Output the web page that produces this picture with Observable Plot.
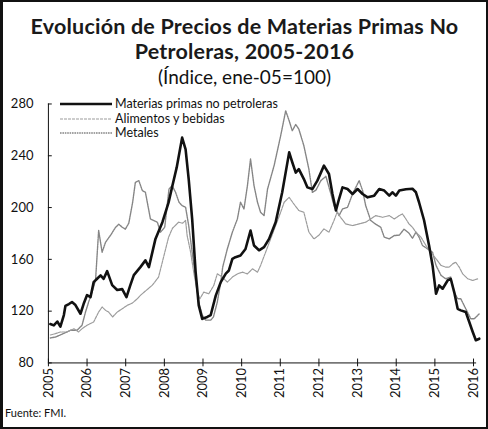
<!DOCTYPE html>
<html>
<head>
<meta charset="utf-8">
<script src="https://cdn.jsdelivr.net/npm/d3@7"></script>
<script src="https://cdn.jsdelivr.net/npm/@observablehq/plot@0.6"></script>
<style>
  html, body { margin: 0; padding: 0; background: #fff; }
  #frame { position: relative; width: 488px; height: 429px; box-sizing: border-box;
           border: 2px solid #111; border-left-width: 3px; overflow: hidden; font-family: Lato, "Open Sans", sans-serif; color: #111; }
  #title { position: absolute; left: 0; right: 0; top: 12px; text-align: center; font-size: 21.5px; font-weight: 700; line-height: 25px; letter-spacing: 0.2px; color: #1a1a1a; }
  #subtitle { position: absolute; left: 0; right: 0; top: 64px; text-align: center; font-size: 19px; font-weight: 400; line-height: 22px; }
  #chart { position: absolute; left: 0; top: 90px; }
  #caption { position: absolute; left: 2px; top: 404px; font-size: 11px; }
  #legend { position: absolute; left: 57px; top: 95px; font-size: 12.5px; line-height: 14.5px; }
  #legend div { display: flex; align-items: center; white-space: nowrap; }
  #legend svg { margin-right: 3px; }
</style>
</head>
<body>
<div id="frame">
  <div id="title">Evolución de Precios de Materias Primas No<br>Petroleras, 2005-2016</div>
  <div id="subtitle">(Índice, ene-05=100)</div>
  <div id="chart"></div>
  <div id="legend"></div>
  <div id="caption">Fuente: FMI.</div>
</div>
<script>
// Tick values
const yTicks = [80, 120, 160, 200, 240, 280];
const xTicks = [2005, 2006, 2007, 2008, 2009, 2010, 2011, 2012, 2013, 2014, 2015, 2016];

// Series names
const seriesNames = ["Materias primas no petroleras", "Alimentos y bebidas", "Metales"];

// Materias primas no petroleras: [year (fractional), index]
const materias = [
  [2005.05,110],[2005.14,109],[2005.23,112],[2005.31,108],[2005.40,117],[2005.44,124],[2005.53,125.5],[2005.61,127],
  [2005.70,124.7],[2005.83,118],[2005.91,125.5],[2006.00,132.4],[2006.09,130.9],[2006.17,142.4],[2006.26,145],
  [2006.35,147.6],[2006.43,145],[2006.52,150.9],[2006.65,140.1],[2006.78,136.3],[2006.91,137],[2007.02,130.9],
  [2007.12,140.1],[2007.21,147.8],[2007.38,154],[2007.51,159.2],[2007.60,154],[2007.77,175.8],[2007.95,188.7],
  [2008.11,204],[2008.21,217],[2008.32,231],[2008.46,254],[2008.55,245],[2008.63,222],[2008.72,191],[2008.81,150],
  [2008.89,124.5],[2008.98,114],[2009.11,115.5],[2009.20,117],[2009.33,132],[2009.46,142.4],[2009.59,149],
  [2009.67,151.4],[2009.76,160.4],[2009.84,161.7],[2009.97,163],[2010.10,168],[2010.23,182.3],[2010.32,170.7],
  [2010.45,167],[2010.58,169.4],[2010.71,175.8],[2010.88,188.7],[2011.05,211.8],[2011.23,242.6],[2011.31,235],
  [2011.40,227],[2011.48,229.7],[2011.61,222],[2011.70,215.6],[2011.83,214.3],[2011.96,220.8],[2012.13,232.4],
  [2012.26,225.9],[2012.35,210.5],[2012.44,197.7],[2012.52,206.6],[2012.61,215.6],[2012.74,214.3],[2012.87,210.5],
  [2013.00,214.3],[2013.13,210.5],[2013.26,207.9],[2013.43,209.2],[2013.56,214.3],[2013.69,213.1],[2013.82,209.2],
  [2013.90,211.8],[2013.99,209.2],[2014.08,213.1],[2014.25,214.1],[2014.42,214.5],[2014.51,211.8],[2014.59,204.1],
  [2014.72,190.2],[2014.85,170.7],[2014.94,155.3],[2015.03,133.4],[2015.11,139.9],[2015.20,137.3],[2015.33,143.7],
  [2015.41,145],[2015.50,134.7],[2015.59,121.8],[2015.67,120.6],[2015.80,119.3],[2015.89,111.6],[2015.98,103.9],
  [2016.06,97.5],[2016.15,98.7]
];

// Alimentos y bebidas
const alimentos = [
  [2005.05,101.6],[2005.18,102.6],[2005.31,103.9],[2005.48,103.9],[2005.66,106.4],[2005.78,103.9],[2005.87,106.4],
  [2006.00,109.1],[2006.17,111.6],[2006.30,119.3],[2006.39,123.2],[2006.48,120.6],[2006.56,119.3],[2006.66,115.5],
  [2006.78,119.3],[2006.91,121.8],[2007.04,124.5],[2007.17,126.2],[2007.30,129.6],[2007.38,132.2],[2007.51,135.5],
  [2007.69,140.1],[2007.85,146.3],[2007.98,161.7],[2008.11,177.1],[2008.21,184],[2008.37,188.7],[2008.47,187.9],
  [2008.55,190],[2008.59,178.4],[2008.68,165.5],[2008.76,150.1],[2008.85,134.7],[2008.92,129.6],[2009.02,134.7],
  [2009.15,133.4],[2009.28,139.9],[2009.37,148.8],[2009.50,146.3],[2009.63,142.4],[2009.76,146.3],[2009.89,148.8],
  [2010.02,150.1],[2010.15,148.8],[2010.28,152.7],[2010.41,150.1],[2010.49,155.3],[2010.62,165.5],[2010.75,175.8],
  [2010.88,186.1],[2011.01,196.4],[2011.10,204.1],[2011.23,207.9],[2011.35,202.8],[2011.48,197.7],[2011.61,196.4],
  [2011.74,181],[2011.87,175.8],[2011.99,178.4],[2012.13,183.5],[2012.26,181],[2012.39,190],[2012.47,196.4],
  [2012.56,192.5],[2012.69,187.4],[2012.87,186.1],[2013.04,187.4],[2013.21,188.7],[2013.34,191.2],[2013.47,193.8],
  [2013.65,192.5],[2013.82,193.8],[2013.95,191.2],[2014.08,193.8],[2014.16,195.1],[2014.25,191.2],[2014.33,187.4],
  [2014.42,184.8],[2014.51,181],[2014.64,177.1],[2014.77,170.7],[2014.90,165.5],[2015.03,160.4],[2015.16,155.3],
  [2015.28,154],[2015.37,154],[2015.46,156.5],[2015.54,157.8],[2015.63,154],[2015.72,148.8],[2015.85,145],
  [2015.98,143.7],[2016.11,145]
];

// Metales
const metales = [
  [2005.05,99.3],[2005.18,100],[2005.31,101.6],[2005.48,103.9],[2005.57,105.2],[2005.74,105.2],[2005.87,109.1],
  [2005.96,119.3],[2006.04,127],[2006.13,134.7],[2006.22,144],[2006.30,182.3],[2006.39,165.5],[2006.48,173.3],
  [2006.61,178.7],[2006.74,184.8],[2006.82,187.1],[2006.91,184.8],[2006.99,183.3],[2007.08,187.9],[2007.18,204.1],
  [2007.25,219.5],[2007.34,220.8],[2007.43,213.1],[2007.51,211.8],[2007.64,191.2],[2007.82,188.7],[2007.90,181],
  [2008.01,184.8],[2008.12,214.3],[2008.20,217],[2008.29,211.8],[2008.38,204.1],[2008.46,201.5],[2008.55,200.2],
  [2008.63,186.1],[2008.72,165.5],[2008.81,145],[2008.89,127],[2008.98,117],[2009.07,113.1],[2009.20,113.1],
  [2009.27,115.5],[2009.37,127],[2009.46,142.4],[2009.51,154],[2009.63,168.1],[2009.76,181],[2009.89,191.2],
  [2009.97,204.1],[2010.06,198.9],[2010.15,217],[2010.23,237.5],[2010.32,217],[2010.41,204.1],[2010.49,196.4],
  [2010.58,193.8],[2010.67,214.3],[2010.84,232.4],[2011.01,255.5],[2011.14,274.8],[2011.23,267],[2011.31,259.3],
  [2011.40,264.2],[2011.48,260.6],[2011.61,247.8],[2011.74,229.7],[2011.83,211.8],[2011.92,213.3],[2012.05,220.8],
  [2012.18,224.1],[2012.31,210.5],[2012.39,201.5],[2012.52,193.8],[2012.61,198.9],[2012.74,200.2],[2012.87,210.5],
  [2013.04,220.8],[2013.13,213.1],[2013.21,201.5],[2013.34,190],[2013.47,187.1],[2013.60,184.8],[2013.69,177.1],
  [2013.82,175.8],[2013.95,178.4],[2014.08,178.7],[2014.20,183.3],[2014.33,180.2],[2014.42,176.3],[2014.51,181],
  [2014.59,177.1],[2014.68,170.7],[2014.81,168.1],[2014.94,165.5],[2015.03,155.3],[2015.16,147.6],[2015.28,145],
  [2015.41,146.3],[2015.50,134.7],[2015.59,129.6],[2015.67,129.6],[2015.80,121.8],[2015.93,114.1],[2016.02,114.1],
  [2016.11,116.8],[2016.15,118]
];

const colors = ["#111111", "#9c9c9c", "#858585"];
const widths = [2.6, 1.2, 1.4];
const dashes = [null, "3,1", "1.6,0.8"];

const toRows = (arr, s) => arr.map(([t, v]) => ({t, v, s}));
const rows = [
  ...toRows(metales, seriesNames[2]),
  ...toRows(alimentos, seriesNames[1]),
  ...toRows(materias, seriesNames[0])
];

const chart = Plot.plot({
  width: 484,
  height: 315,
  marginTop: 11.5,
  marginBottom: 44,
  marginLeft: 45,
  marginRight: 13,
  style: {fontFamily: "Lato, 'Open Sans', sans-serif", fontSize: "13px", color: "#111", background: "transparent"},
  x: {domain: [2005, 2016], axis: null, label: null},
  y: {domain: [80, 280], axis: null, label: null},
  marks: [
    Plot.axisY(yTicks, {tickSize: 0, tickPadding: 15, fontSize: 13, label: null}),
    Plot.axisX(xTicks, {tickSize: 0, tickPadding: 5, tickRotate: -90, tickFormat: d => String(d), fontSize: 13, label: null}),
    Plot.ruleX([xTicks[0]], {y1: yTicks[0], y2: yTicks[yTicks.length - 1], stroke: "#111", strokeWidth: 1}),
    Plot.ruleY(yTicks, {x1: xTicks[0], x2: xTicks[0] + 0.1, stroke: "#111", strokeWidth: 1}),
    Plot.ruleY([yTicks[0]], {x1: xTicks[0], x2: xTicks[xTicks.length - 1] + 0.08, stroke: "#111", strokeWidth: 1}),
    Plot.ruleX(xTicks, {y1: yTicks[0] - 3, y2: yTicks[0] + 3, stroke: "#111", strokeWidth: 1}),
    Plot.line(rows.filter(d => d.s === seriesNames[2]), {x: "t", y: "v", stroke: colors[2], strokeWidth: widths[2], strokeDasharray: dashes[2]}),
    Plot.line(rows.filter(d => d.s === seriesNames[1]), {x: "t", y: "v", stroke: colors[1], strokeWidth: widths[1], strokeDasharray: dashes[1]}),
    Plot.line(rows.filter(d => d.s === seriesNames[0]), {x: "t", y: "v", stroke: colors[0], strokeWidth: widths[0]})
  ]
});
document.getElementById("chart").appendChild(chart);

// Legend
const legend = document.getElementById("legend");
seriesNames.forEach((name, i) => {
  const row = document.createElement("div");
  const dash = dashes[i] ? ` stroke-dasharray="${dashes[i]}"` : "";
  row.innerHTML = `<svg width="52" height="8"><line x1="0" y1="4" x2="52" y2="4" stroke="${colors[i]}" stroke-width="${widths[i]}"${dash}/></svg><span>${name}</span>`;
  legend.appendChild(row);
});
</script>
</body>
</html>
